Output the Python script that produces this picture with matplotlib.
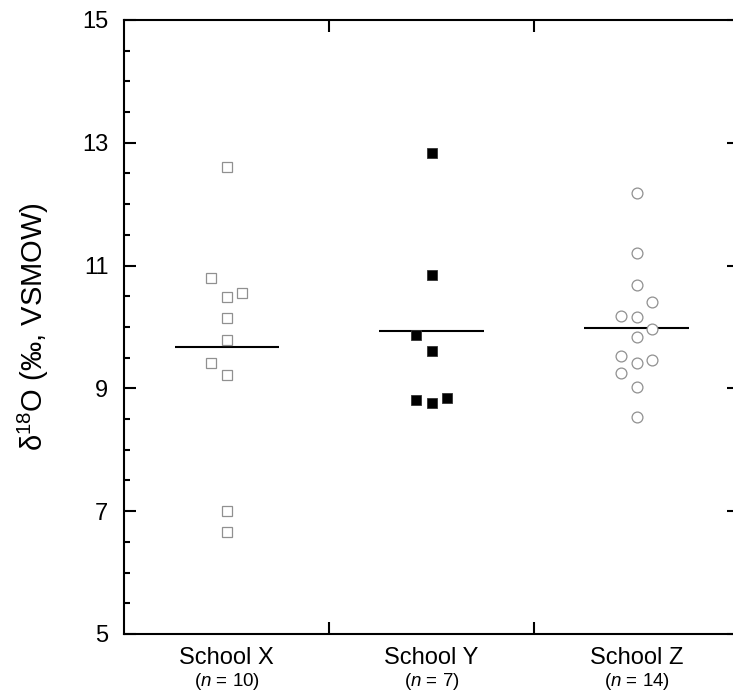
import numpy as np
import matplotlib
matplotlib.use('Agg')
import matplotlib.pyplot as plt
import matplotlib.transforms as mtransforms

plt.rcParams['font.family'] = ['Liberation Sans', 'DejaVu Sans']
plt.rcParams['mathtext.fontset'] = 'custom'
plt.rcParams['mathtext.rm'] = 'Liberation Sans'
plt.rcParams['mathtext.it'] = 'Liberation Sans:italic'

# d18O values per school
schools = ['School X', 'School Y', 'School Z']
school_x = [12.61, 10.80, 10.49, 10.55, 10.14, 9.78, 9.41, 9.22, 7.00, 6.66]
school_y = [12.83, 10.85, 9.87, 9.61, 8.81, 8.77, 8.85]
school_z = [12.18, 11.20, 10.68, 10.40, 10.18, 10.17, 9.96, 9.83, 9.53, 9.47,
            9.42, 9.25, 9.03, 8.54]
# column of each point inside its group (-1 left, 0 centre, 1 right)
col_x = [0, -1, 0, 1, 0, 0, -1, 0, 0, 0]
col_y = [0, 0, -1, 0, -1, 0, 1]
col_z = [0, 0, 0, 1, -1, 0, 1, 0, -1, 1, 0, -1, 0, 0]

yticks = [5, 7, 9, 11, 13, 15]

fig = plt.figure(figsize=(7.33, 6.96), dpi=100)
ax = fig.add_axes([0.1696, 0.0891, 0.8386, 0.8822])

groups = [
    (school_x, col_x, dict(marker='s', ms=7, mfc='white', mec='#909090', mew=0.9)),
    (school_y, col_y, dict(marker='s', ms=7, mfc='black', mec='#333333', mew=0.6)),
    (school_z, col_z, dict(marker='o', ms=7.8, mfc='white', mec='#909090', mew=0.9)),
]
step = 0.076
for i, (vals, cols, style) in enumerate(groups):
    pos = i + 1
    xs = pos + step * np.array(cols)
    ax.plot(xs, vals, ls='none', zorder=3, **style)
    ax.hlines(np.mean(vals), pos - 0.255, pos + 0.255, color='black', lw=1.5, zorder=2)

ax.set_xlim(0.5, 3.5)
ax.set_ylim(5, 15)
ax.set_yticks(yticks)
ax.set_yticks(np.arange(5, 15.01, 0.5), minor=True)
ax.set_xticks([1.5, 2.5])
ax.set_xticklabels([])
ax.tick_params(axis='both', which='major', direction='in', length=8.4, width=1.5,
               labelsize=17, top=True, right=True)
ax.tick_params(axis='y', which='minor', direction='in', length=4.2, width=1.5)
ax.tick_params(axis='y', which='major', pad=11.5)
for s in ax.spines.values():
    s.set_linewidth(1.5)

trans = mtransforms.blended_transform_factory(ax.transData, fig.transFigure)
for i, (name, vals) in enumerate(zip(schools, [school_x, school_y, school_z])):
    ax.text(i + 1, 1 - 658 / 696, name, transform=trans, ha='center', va='center',
            fontsize=17)
    ax.text(i + 1, 1 - 682 / 696, '($n$ = %d)' % len(vals), transform=trans,
            ha='center', va='center', fontsize=13.5)

ax.set_ylabel('δ$^{18}$O (‰, VSMOW)', fontsize=21)
ax.yaxis.set_label_coords(-0.12, 0.5)

fig.savefig('out.png', dpi=100)
